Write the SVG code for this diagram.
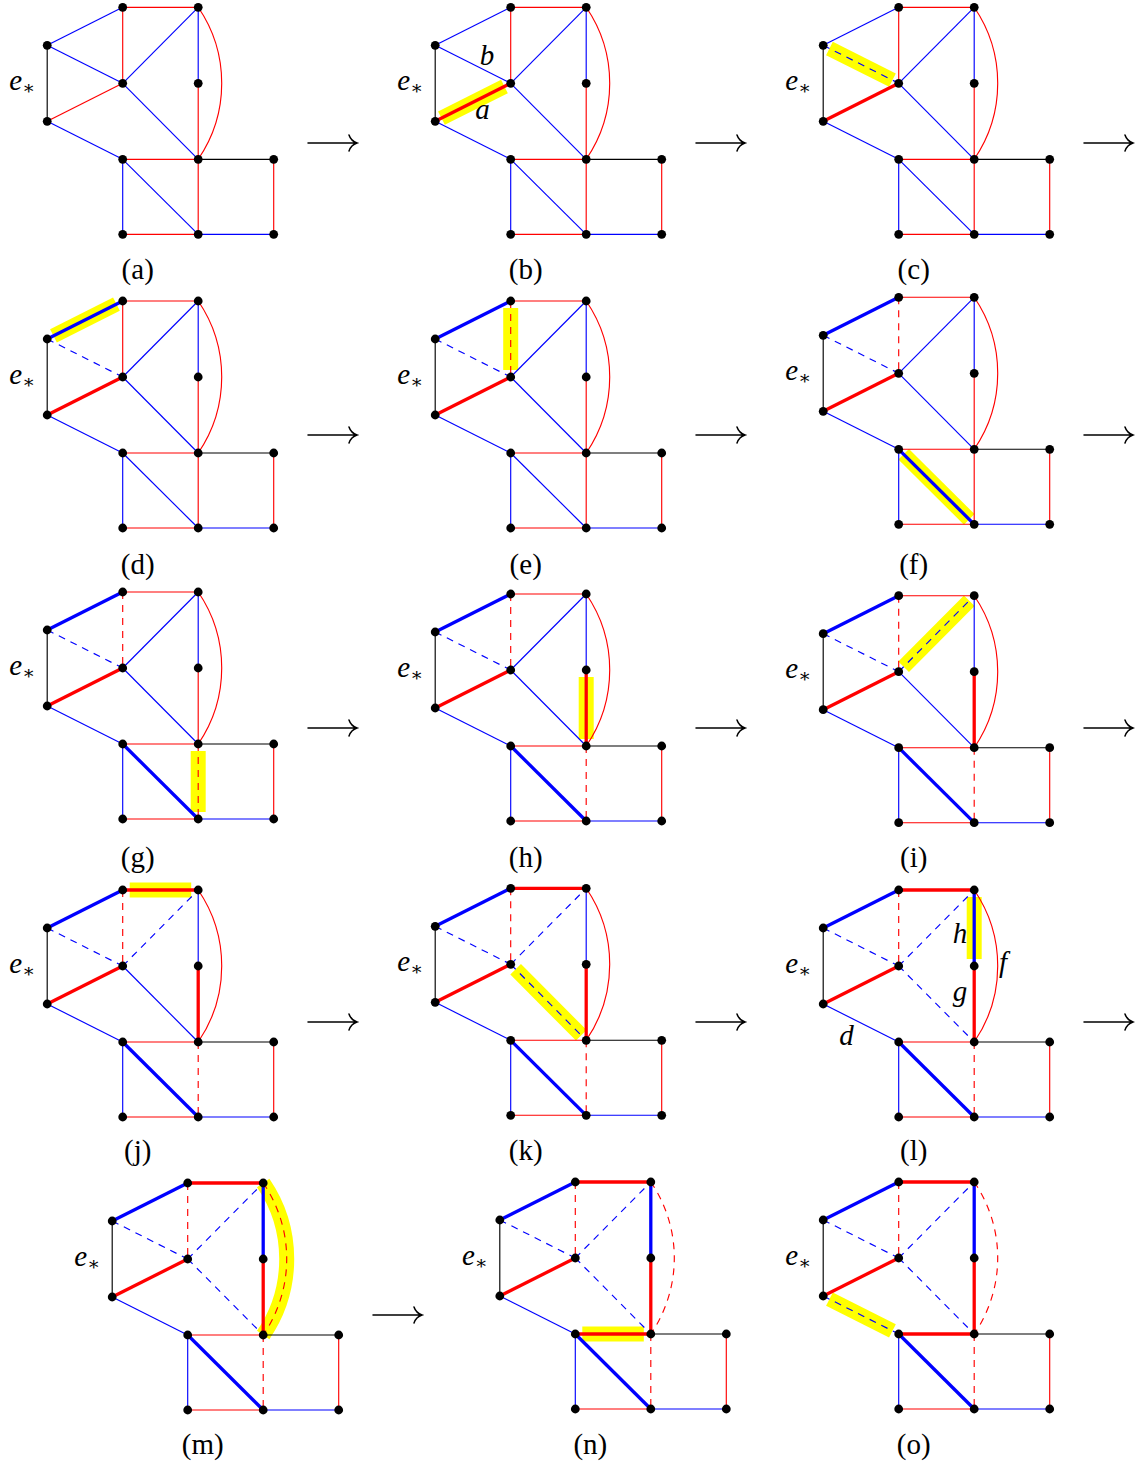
<svg xmlns="http://www.w3.org/2000/svg" width="1135" height="1466" viewBox="0 0 1135 1466">
<style>
.e{fill:none;stroke-width:1.15}
.r{stroke:#ff0000}
.b{stroke:#0000ff}
.n{stroke:#000000}
.w{stroke-width:3.3}
.d{stroke-dasharray:7 6}
.hl{fill:none;stroke:#ffff00;stroke-width:15}
.nd circle{fill:#000;r:4.4px}
.lbl{font-family:"Liberation Serif","Times New Roman",serif;font-size:29px;fill:#000}
.it{font-style:italic}
.ast{font-family:"DejaVu Serif",serif;font-size:19px;font-style:normal}
.arr{fill:none;stroke:#000;stroke-width:1.5;stroke-linecap:round}
</style>
<rect width="1135" height="1466" fill="#ffffff"/>

<!-- panel a -->
<g id="panel-a" transform="translate(122.7,7.3)">
<g id="a-edges">
<line class="e b" x1="-75.5" y1="38" x2="0" y2="0"/>
<line class="e r" x1="0" y1="0" x2="75.5" y2="0"/>
<line class="e r" x1="0" y1="0" x2="0" y2="76"/>
<line class="e b" x1="-75.5" y1="38" x2="0" y2="76"/>
<line class="e n" x1="-75.5" y1="38" x2="-75.5" y2="114"/>
<line class="e r" x1="-75.5" y1="114" x2="0" y2="76"/>
<line class="e b" x1="0" y1="76" x2="75.5" y2="0"/>
<line class="e b" x1="0" y1="76" x2="75.5" y2="152"/>
<line class="e b" x1="75.5" y1="0" x2="75.5" y2="76"/>
<line class="e r" x1="75.5" y1="76" x2="75.5" y2="152"/>
<path class="e r" d="M75.5,0A134.6,134.6 0 0 1 75.5,152"/>
<line class="e b" x1="-75.5" y1="114" x2="0" y2="152"/>
<line class="e r" x1="0" y1="152" x2="75.5" y2="152"/>
<line class="e n" x1="75.5" y1="152" x2="151" y2="152"/>
<line class="e b" x1="0" y1="152" x2="0" y2="227"/>
<line class="e b" x1="0" y1="152" x2="75.5" y2="227"/>
<line class="e r" x1="75.5" y1="152" x2="75.5" y2="227"/>
<line class="e r" x1="0" y1="227" x2="75.5" y2="227"/>
<line class="e r" x1="151" y1="152" x2="151" y2="227"/>
<line class="e b" x1="75.5" y1="227" x2="151" y2="227"/>
</g>
<g id="a-A" class="nd"><circle cx="0" cy="0" r="4"/></g>
<g id="a-B" class="nd"><circle cx="75.5" cy="0" r="4"/></g>
<g id="a-C" class="nd"><circle cx="-75.5" cy="38" r="4"/></g>
<g id="a-D" class="nd"><circle cx="0" cy="76" r="4"/></g>
<g id="a-E" class="nd"><circle cx="75.5" cy="76" r="4"/></g>
<g id="a-F" class="nd"><circle cx="-75.5" cy="114" r="4"/></g>
<g id="a-G" class="nd"><circle cx="0" cy="152" r="4"/></g>
<g id="a-H" class="nd"><circle cx="75.5" cy="152" r="4"/></g>
<g id="a-I" class="nd"><circle cx="151" cy="152" r="4"/></g>
<g id="a-J" class="nd"><circle cx="0" cy="227" r="4"/></g>
<g id="a-K" class="nd"><circle cx="75.5" cy="227" r="4"/></g>
<g id="a-L" class="nd"><circle cx="151" cy="227" r="4"/></g>
<text class="lbl" x="-113.4" y="82.7"><tspan class="it">e</tspan><tspan class="ast" dy="4">∗</tspan></text>
<text class="lbl" x="15" y="271.7" text-anchor="middle">(a)</text>
</g>

<!-- panel b -->
<g id="panel-b" transform="translate(510.7,7.3)">
<g id="b-edges">
<line class="hl" x1="-69.25" y1="110.85" x2="-6.25" y2="79.15"/>
<line class="e b" x1="-75.5" y1="38" x2="0" y2="0"/>
<line class="e r" x1="0" y1="0" x2="75.5" y2="0"/>
<line class="e r" x1="0" y1="0" x2="0" y2="76"/>
<line class="e b" x1="-75.5" y1="38" x2="0" y2="76"/>
<line class="e n" x1="-75.5" y1="38" x2="-75.5" y2="114"/>
<line class="e r w" x1="-75.5" y1="114" x2="0" y2="76"/>
<line class="e b" x1="0" y1="76" x2="75.5" y2="0"/>
<line class="e b" x1="0" y1="76" x2="75.5" y2="152"/>
<line class="e b" x1="75.5" y1="0" x2="75.5" y2="76"/>
<line class="e r" x1="75.5" y1="76" x2="75.5" y2="152"/>
<path class="e r" d="M75.5,0A134.6,134.6 0 0 1 75.5,152"/>
<line class="e b" x1="-75.5" y1="114" x2="0" y2="152"/>
<line class="e r" x1="0" y1="152" x2="75.5" y2="152"/>
<line class="e n" x1="75.5" y1="152" x2="151" y2="152"/>
<line class="e b" x1="0" y1="152" x2="0" y2="227"/>
<line class="e b" x1="0" y1="152" x2="75.5" y2="227"/>
<line class="e r" x1="75.5" y1="152" x2="75.5" y2="227"/>
<line class="e r" x1="0" y1="227" x2="75.5" y2="227"/>
<line class="e r" x1="151" y1="152" x2="151" y2="227"/>
<line class="e b" x1="75.5" y1="227" x2="151" y2="227"/>
</g>
<g id="b-A" class="nd"><circle cx="0" cy="0" r="4"/></g>
<g id="b-B" class="nd"><circle cx="75.5" cy="0" r="4"/></g>
<g id="b-C" class="nd"><circle cx="-75.5" cy="38" r="4"/></g>
<g id="b-D" class="nd"><circle cx="0" cy="76" r="4"/></g>
<g id="b-E" class="nd"><circle cx="75.5" cy="76" r="4"/></g>
<g id="b-F" class="nd"><circle cx="-75.5" cy="114" r="4"/></g>
<g id="b-G" class="nd"><circle cx="0" cy="152" r="4"/></g>
<g id="b-H" class="nd"><circle cx="75.5" cy="152" r="4"/></g>
<g id="b-I" class="nd"><circle cx="151" cy="152" r="4"/></g>
<g id="b-J" class="nd"><circle cx="0" cy="227" r="4"/></g>
<g id="b-K" class="nd"><circle cx="75.5" cy="227" r="4"/></g>
<g id="b-L" class="nd"><circle cx="151" cy="227" r="4"/></g>
<text class="lbl" x="-113.4" y="82.7"><tspan class="it">e</tspan><tspan class="ast" dy="4">∗</tspan></text>
<text class="lbl it" x="-31" y="57.7">b</text>
<text class="lbl it" x="-35.4" y="111.7">a</text>
<text class="lbl" x="15" y="271.7" text-anchor="middle">(b)</text>
</g>

<!-- panel c -->
<g id="panel-c" transform="translate(898.7,7.3)">
<g id="c-edges">
<line class="hl" x1="-69.25" y1="41.15" x2="-6.25" y2="72.85"/>
<line class="e b" x1="-75.5" y1="38" x2="0" y2="0"/>
<line class="e r" x1="0" y1="0" x2="75.5" y2="0"/>
<line class="e r" x1="0" y1="0" x2="0" y2="76"/>
<line class="e b d" x1="-75.5" y1="38" x2="0" y2="76"/>
<line class="e n" x1="-75.5" y1="38" x2="-75.5" y2="114"/>
<line class="e r w" x1="-75.5" y1="114" x2="0" y2="76"/>
<line class="e b" x1="0" y1="76" x2="75.5" y2="0"/>
<line class="e b" x1="0" y1="76" x2="75.5" y2="152"/>
<line class="e b" x1="75.5" y1="0" x2="75.5" y2="76"/>
<line class="e r" x1="75.5" y1="76" x2="75.5" y2="152"/>
<path class="e r" d="M75.5,0A134.6,134.6 0 0 1 75.5,152"/>
<line class="e b" x1="-75.5" y1="114" x2="0" y2="152"/>
<line class="e r" x1="0" y1="152" x2="75.5" y2="152"/>
<line class="e n" x1="75.5" y1="152" x2="151" y2="152"/>
<line class="e b" x1="0" y1="152" x2="0" y2="227"/>
<line class="e b" x1="0" y1="152" x2="75.5" y2="227"/>
<line class="e r" x1="75.5" y1="152" x2="75.5" y2="227"/>
<line class="e r" x1="0" y1="227" x2="75.5" y2="227"/>
<line class="e r" x1="151" y1="152" x2="151" y2="227"/>
<line class="e b" x1="75.5" y1="227" x2="151" y2="227"/>
</g>
<g id="c-A" class="nd"><circle cx="0" cy="0" r="4"/></g>
<g id="c-B" class="nd"><circle cx="75.5" cy="0" r="4"/></g>
<g id="c-C" class="nd"><circle cx="-75.5" cy="38" r="4"/></g>
<g id="c-D" class="nd"><circle cx="0" cy="76" r="4"/></g>
<g id="c-E" class="nd"><circle cx="75.5" cy="76" r="4"/></g>
<g id="c-F" class="nd"><circle cx="-75.5" cy="114" r="4"/></g>
<g id="c-G" class="nd"><circle cx="0" cy="152" r="4"/></g>
<g id="c-H" class="nd"><circle cx="75.5" cy="152" r="4"/></g>
<g id="c-I" class="nd"><circle cx="151" cy="152" r="4"/></g>
<g id="c-J" class="nd"><circle cx="0" cy="227" r="4"/></g>
<g id="c-K" class="nd"><circle cx="75.5" cy="227" r="4"/></g>
<g id="c-L" class="nd"><circle cx="151" cy="227" r="4"/></g>
<text class="lbl" x="-113.4" y="82.7"><tspan class="it">e</tspan><tspan class="ast" dy="4">∗</tspan></text>
<text class="lbl" x="15" y="271.7" text-anchor="middle">(c)</text>
</g>

<!-- panel d -->
<g id="panel-d" transform="translate(122.7,301)">
<g id="d-edges">
<line class="hl" x1="-69.25" y1="34.85" x2="-6.25" y2="3.15"/>
<line class="e b w" x1="-75.5" y1="38" x2="0" y2="0"/>
<line class="e r" x1="0" y1="0" x2="75.5" y2="0"/>
<line class="e r" x1="0" y1="0" x2="0" y2="76"/>
<line class="e b d" x1="-75.5" y1="38" x2="0" y2="76"/>
<line class="e n" x1="-75.5" y1="38" x2="-75.5" y2="114"/>
<line class="e r w" x1="-75.5" y1="114" x2="0" y2="76"/>
<line class="e b" x1="0" y1="76" x2="75.5" y2="0"/>
<line class="e b" x1="0" y1="76" x2="75.5" y2="152"/>
<line class="e b" x1="75.5" y1="0" x2="75.5" y2="76"/>
<line class="e r" x1="75.5" y1="76" x2="75.5" y2="152"/>
<path class="e r" d="M75.5,0A134.6,134.6 0 0 1 75.5,152"/>
<line class="e b" x1="-75.5" y1="114" x2="0" y2="152"/>
<line class="e r" x1="0" y1="152" x2="75.5" y2="152"/>
<line class="e n" x1="75.5" y1="152" x2="151" y2="152"/>
<line class="e b" x1="0" y1="152" x2="0" y2="227"/>
<line class="e b" x1="0" y1="152" x2="75.5" y2="227"/>
<line class="e r" x1="75.5" y1="152" x2="75.5" y2="227"/>
<line class="e r" x1="0" y1="227" x2="75.5" y2="227"/>
<line class="e r" x1="151" y1="152" x2="151" y2="227"/>
<line class="e b" x1="75.5" y1="227" x2="151" y2="227"/>
</g>
<g id="d-A" class="nd"><circle cx="0" cy="0" r="4"/></g>
<g id="d-B" class="nd"><circle cx="75.5" cy="0" r="4"/></g>
<g id="d-C" class="nd"><circle cx="-75.5" cy="38" r="4"/></g>
<g id="d-D" class="nd"><circle cx="0" cy="76" r="4"/></g>
<g id="d-E" class="nd"><circle cx="75.5" cy="76" r="4"/></g>
<g id="d-F" class="nd"><circle cx="-75.5" cy="114" r="4"/></g>
<g id="d-G" class="nd"><circle cx="0" cy="152" r="4"/></g>
<g id="d-H" class="nd"><circle cx="75.5" cy="152" r="4"/></g>
<g id="d-I" class="nd"><circle cx="151" cy="152" r="4"/></g>
<g id="d-J" class="nd"><circle cx="0" cy="227" r="4"/></g>
<g id="d-K" class="nd"><circle cx="75.5" cy="227" r="4"/></g>
<g id="d-L" class="nd"><circle cx="151" cy="227" r="4"/></g>
<text class="lbl" x="-113.4" y="82.7"><tspan class="it">e</tspan><tspan class="ast" dy="4">∗</tspan></text>
<text class="lbl" x="15" y="273" text-anchor="middle">(d)</text>
</g>

<!-- panel e -->
<g id="panel-e" transform="translate(510.7,301)">
<g id="e-edges">
<line class="hl" x1="0" y1="7" x2="0" y2="69"/>
<line class="e b w" x1="-75.5" y1="38" x2="0" y2="0"/>
<line class="e r" x1="0" y1="0" x2="75.5" y2="0"/>
<line class="e r d" x1="0" y1="0" x2="0" y2="76"/>
<line class="e b d" x1="-75.5" y1="38" x2="0" y2="76"/>
<line class="e n" x1="-75.5" y1="38" x2="-75.5" y2="114"/>
<line class="e r w" x1="-75.5" y1="114" x2="0" y2="76"/>
<line class="e b" x1="0" y1="76" x2="75.5" y2="0"/>
<line class="e b" x1="0" y1="76" x2="75.5" y2="152"/>
<line class="e b" x1="75.5" y1="0" x2="75.5" y2="76"/>
<line class="e r" x1="75.5" y1="76" x2="75.5" y2="152"/>
<path class="e r" d="M75.5,0A134.6,134.6 0 0 1 75.5,152"/>
<line class="e b" x1="-75.5" y1="114" x2="0" y2="152"/>
<line class="e r" x1="0" y1="152" x2="75.5" y2="152"/>
<line class="e n" x1="75.5" y1="152" x2="151" y2="152"/>
<line class="e b" x1="0" y1="152" x2="0" y2="227"/>
<line class="e b" x1="0" y1="152" x2="75.5" y2="227"/>
<line class="e r" x1="75.5" y1="152" x2="75.5" y2="227"/>
<line class="e r" x1="0" y1="227" x2="75.5" y2="227"/>
<line class="e r" x1="151" y1="152" x2="151" y2="227"/>
<line class="e b" x1="75.5" y1="227" x2="151" y2="227"/>
</g>
<g id="e-A" class="nd"><circle cx="0" cy="0" r="4"/></g>
<g id="e-B" class="nd"><circle cx="75.5" cy="0" r="4"/></g>
<g id="e-C" class="nd"><circle cx="-75.5" cy="38" r="4"/></g>
<g id="e-D" class="nd"><circle cx="0" cy="76" r="4"/></g>
<g id="e-E" class="nd"><circle cx="75.5" cy="76" r="4"/></g>
<g id="e-F" class="nd"><circle cx="-75.5" cy="114" r="4"/></g>
<g id="e-G" class="nd"><circle cx="0" cy="152" r="4"/></g>
<g id="e-H" class="nd"><circle cx="75.5" cy="152" r="4"/></g>
<g id="e-I" class="nd"><circle cx="151" cy="152" r="4"/></g>
<g id="e-J" class="nd"><circle cx="0" cy="227" r="4"/></g>
<g id="e-K" class="nd"><circle cx="75.5" cy="227" r="4"/></g>
<g id="e-L" class="nd"><circle cx="151" cy="227" r="4"/></g>
<text class="lbl" x="-113.4" y="82.7"><tspan class="it">e</tspan><tspan class="ast" dy="4">∗</tspan></text>
<text class="lbl" x="15" y="273" text-anchor="middle">(e)</text>
</g>

<!-- panel f -->
<g id="panel-f" transform="translate(898.7,297.3)">
<g id="f-edges">
<line class="hl" x1="4.97" y1="156.93" x2="70.53" y2="222.07"/>
<line class="e b w" x1="-75.5" y1="38" x2="0" y2="0"/>
<line class="e r" x1="0" y1="0" x2="75.5" y2="0"/>
<line class="e r d" x1="0" y1="0" x2="0" y2="76"/>
<line class="e b d" x1="-75.5" y1="38" x2="0" y2="76"/>
<line class="e n" x1="-75.5" y1="38" x2="-75.5" y2="114"/>
<line class="e r w" x1="-75.5" y1="114" x2="0" y2="76"/>
<line class="e b" x1="0" y1="76" x2="75.5" y2="0"/>
<line class="e b" x1="0" y1="76" x2="75.5" y2="152"/>
<line class="e b" x1="75.5" y1="0" x2="75.5" y2="76"/>
<line class="e r" x1="75.5" y1="76" x2="75.5" y2="152"/>
<path class="e r" d="M75.5,0A134.6,134.6 0 0 1 75.5,152"/>
<line class="e b" x1="-75.5" y1="114" x2="0" y2="152"/>
<line class="e r" x1="0" y1="152" x2="75.5" y2="152"/>
<line class="e n" x1="75.5" y1="152" x2="151" y2="152"/>
<line class="e b" x1="0" y1="152" x2="0" y2="227"/>
<line class="e b w" x1="0" y1="152" x2="75.5" y2="227"/>
<line class="e r" x1="75.5" y1="152" x2="75.5" y2="227"/>
<line class="e r" x1="0" y1="227" x2="75.5" y2="227"/>
<line class="e r" x1="151" y1="152" x2="151" y2="227"/>
<line class="e b" x1="75.5" y1="227" x2="151" y2="227"/>
</g>
<g id="f-A" class="nd"><circle cx="0" cy="0" r="4"/></g>
<g id="f-B" class="nd"><circle cx="75.5" cy="0" r="4"/></g>
<g id="f-C" class="nd"><circle cx="-75.5" cy="38" r="4"/></g>
<g id="f-D" class="nd"><circle cx="0" cy="76" r="4"/></g>
<g id="f-E" class="nd"><circle cx="75.5" cy="76" r="4"/></g>
<g id="f-F" class="nd"><circle cx="-75.5" cy="114" r="4"/></g>
<g id="f-G" class="nd"><circle cx="0" cy="152" r="4"/></g>
<g id="f-H" class="nd"><circle cx="75.5" cy="152" r="4"/></g>
<g id="f-I" class="nd"><circle cx="151" cy="152" r="4"/></g>
<g id="f-J" class="nd"><circle cx="0" cy="227" r="4"/></g>
<g id="f-K" class="nd"><circle cx="75.5" cy="227" r="4"/></g>
<g id="f-L" class="nd"><circle cx="151" cy="227" r="4"/></g>
<text class="lbl" x="-113.4" y="82.7"><tspan class="it">e</tspan><tspan class="ast" dy="4">∗</tspan></text>
<text class="lbl" x="15" y="276.7" text-anchor="middle">(f)</text>
</g>

<!-- panel g -->
<g id="panel-g" transform="translate(122.7,592)">
<g id="g-edges">
<line class="hl" x1="75.5" y1="159" x2="75.5" y2="220"/>
<line class="e b w" x1="-75.5" y1="38" x2="0" y2="0"/>
<line class="e r" x1="0" y1="0" x2="75.5" y2="0"/>
<line class="e r d" x1="0" y1="0" x2="0" y2="76"/>
<line class="e b d" x1="-75.5" y1="38" x2="0" y2="76"/>
<line class="e n" x1="-75.5" y1="38" x2="-75.5" y2="114"/>
<line class="e r w" x1="-75.5" y1="114" x2="0" y2="76"/>
<line class="e b" x1="0" y1="76" x2="75.5" y2="0"/>
<line class="e b" x1="0" y1="76" x2="75.5" y2="152"/>
<line class="e b" x1="75.5" y1="0" x2="75.5" y2="76"/>
<line class="e r" x1="75.5" y1="76" x2="75.5" y2="152"/>
<path class="e r" d="M75.5,0A134.6,134.6 0 0 1 75.5,152"/>
<line class="e b" x1="-75.5" y1="114" x2="0" y2="152"/>
<line class="e r" x1="0" y1="152" x2="75.5" y2="152"/>
<line class="e n" x1="75.5" y1="152" x2="151" y2="152"/>
<line class="e b" x1="0" y1="152" x2="0" y2="227"/>
<line class="e b w" x1="0" y1="152" x2="75.5" y2="227"/>
<line class="e r d" x1="75.5" y1="152" x2="75.5" y2="227"/>
<line class="e r" x1="0" y1="227" x2="75.5" y2="227"/>
<line class="e r" x1="151" y1="152" x2="151" y2="227"/>
<line class="e b" x1="75.5" y1="227" x2="151" y2="227"/>
</g>
<g id="g-A" class="nd"><circle cx="0" cy="0" r="4"/></g>
<g id="g-B" class="nd"><circle cx="75.5" cy="0" r="4"/></g>
<g id="g-C" class="nd"><circle cx="-75.5" cy="38" r="4"/></g>
<g id="g-D" class="nd"><circle cx="0" cy="76" r="4"/></g>
<g id="g-E" class="nd"><circle cx="75.5" cy="76" r="4"/></g>
<g id="g-F" class="nd"><circle cx="-75.5" cy="114" r="4"/></g>
<g id="g-G" class="nd"><circle cx="0" cy="152" r="4"/></g>
<g id="g-H" class="nd"><circle cx="75.5" cy="152" r="4"/></g>
<g id="g-I" class="nd"><circle cx="151" cy="152" r="4"/></g>
<g id="g-J" class="nd"><circle cx="0" cy="227" r="4"/></g>
<g id="g-K" class="nd"><circle cx="75.5" cy="227" r="4"/></g>
<g id="g-L" class="nd"><circle cx="151" cy="227" r="4"/></g>
<text class="lbl" x="-113.4" y="82.7"><tspan class="it">e</tspan><tspan class="ast" dy="4">∗</tspan></text>
<text class="lbl" x="15" y="275" text-anchor="middle">(g)</text>
</g>

<!-- panel h -->
<g id="panel-h" transform="translate(510.7,594)">
<g id="h-edges">
<line class="hl" x1="75.5" y1="83" x2="75.5" y2="145"/>
<line class="e b w" x1="-75.5" y1="38" x2="0" y2="0"/>
<line class="e r" x1="0" y1="0" x2="75.5" y2="0"/>
<line class="e r d" x1="0" y1="0" x2="0" y2="76"/>
<line class="e b d" x1="-75.5" y1="38" x2="0" y2="76"/>
<line class="e n" x1="-75.5" y1="38" x2="-75.5" y2="114"/>
<line class="e r w" x1="-75.5" y1="114" x2="0" y2="76"/>
<line class="e b" x1="0" y1="76" x2="75.5" y2="0"/>
<line class="e b" x1="0" y1="76" x2="75.5" y2="152"/>
<line class="e b" x1="75.5" y1="0" x2="75.5" y2="76"/>
<line class="e r w" x1="75.5" y1="76" x2="75.5" y2="152"/>
<path class="e r" d="M75.5,0A134.6,134.6 0 0 1 75.5,152"/>
<line class="e b" x1="-75.5" y1="114" x2="0" y2="152"/>
<line class="e r" x1="0" y1="152" x2="75.5" y2="152"/>
<line class="e n" x1="75.5" y1="152" x2="151" y2="152"/>
<line class="e b" x1="0" y1="152" x2="0" y2="227"/>
<line class="e b w" x1="0" y1="152" x2="75.5" y2="227"/>
<line class="e r d" x1="75.5" y1="152" x2="75.5" y2="227"/>
<line class="e r" x1="0" y1="227" x2="75.5" y2="227"/>
<line class="e r" x1="151" y1="152" x2="151" y2="227"/>
<line class="e b" x1="75.5" y1="227" x2="151" y2="227"/>
</g>
<g id="h-A" class="nd"><circle cx="0" cy="0" r="4"/></g>
<g id="h-B" class="nd"><circle cx="75.5" cy="0" r="4"/></g>
<g id="h-C" class="nd"><circle cx="-75.5" cy="38" r="4"/></g>
<g id="h-D" class="nd"><circle cx="0" cy="76" r="4"/></g>
<g id="h-E" class="nd"><circle cx="75.5" cy="76" r="4"/></g>
<g id="h-F" class="nd"><circle cx="-75.5" cy="114" r="4"/></g>
<g id="h-G" class="nd"><circle cx="0" cy="152" r="4"/></g>
<g id="h-H" class="nd"><circle cx="75.5" cy="152" r="4"/></g>
<g id="h-I" class="nd"><circle cx="151" cy="152" r="4"/></g>
<g id="h-J" class="nd"><circle cx="0" cy="227" r="4"/></g>
<g id="h-K" class="nd"><circle cx="75.5" cy="227" r="4"/></g>
<g id="h-L" class="nd"><circle cx="151" cy="227" r="4"/></g>
<text class="lbl" x="-113.4" y="82.7"><tspan class="it">e</tspan><tspan class="ast" dy="4">∗</tspan></text>
<text class="lbl" x="15" y="273" text-anchor="middle">(h)</text>
</g>

<!-- panel i -->
<g id="panel-i" transform="translate(898.7,595.7)">
<g id="i-edges">
<line class="hl" x1="4.93" y1="71.03" x2="70.57" y2="4.97"/>
<line class="e b w" x1="-75.5" y1="38" x2="0" y2="0"/>
<line class="e r" x1="0" y1="0" x2="75.5" y2="0"/>
<line class="e r d" x1="0" y1="0" x2="0" y2="76"/>
<line class="e b d" x1="-75.5" y1="38" x2="0" y2="76"/>
<line class="e n" x1="-75.5" y1="38" x2="-75.5" y2="114"/>
<line class="e r w" x1="-75.5" y1="114" x2="0" y2="76"/>
<line class="e b d" x1="0" y1="76" x2="75.5" y2="0"/>
<line class="e b" x1="0" y1="76" x2="75.5" y2="152"/>
<line class="e b" x1="75.5" y1="0" x2="75.5" y2="76"/>
<line class="e r w" x1="75.5" y1="76" x2="75.5" y2="152"/>
<path class="e r" d="M75.5,0A134.6,134.6 0 0 1 75.5,152"/>
<line class="e b" x1="-75.5" y1="114" x2="0" y2="152"/>
<line class="e r" x1="0" y1="152" x2="75.5" y2="152"/>
<line class="e n" x1="75.5" y1="152" x2="151" y2="152"/>
<line class="e b" x1="0" y1="152" x2="0" y2="227"/>
<line class="e b w" x1="0" y1="152" x2="75.5" y2="227"/>
<line class="e r d" x1="75.5" y1="152" x2="75.5" y2="227"/>
<line class="e r" x1="0" y1="227" x2="75.5" y2="227"/>
<line class="e r" x1="151" y1="152" x2="151" y2="227"/>
<line class="e b" x1="75.5" y1="227" x2="151" y2="227"/>
</g>
<g id="i-A" class="nd"><circle cx="0" cy="0" r="4"/></g>
<g id="i-B" class="nd"><circle cx="75.5" cy="0" r="4"/></g>
<g id="i-C" class="nd"><circle cx="-75.5" cy="38" r="4"/></g>
<g id="i-D" class="nd"><circle cx="0" cy="76" r="4"/></g>
<g id="i-E" class="nd"><circle cx="75.5" cy="76" r="4"/></g>
<g id="i-F" class="nd"><circle cx="-75.5" cy="114" r="4"/></g>
<g id="i-G" class="nd"><circle cx="0" cy="152" r="4"/></g>
<g id="i-H" class="nd"><circle cx="75.5" cy="152" r="4"/></g>
<g id="i-I" class="nd"><circle cx="151" cy="152" r="4"/></g>
<g id="i-J" class="nd"><circle cx="0" cy="227" r="4"/></g>
<g id="i-K" class="nd"><circle cx="75.5" cy="227" r="4"/></g>
<g id="i-L" class="nd"><circle cx="151" cy="227" r="4"/></g>
<text class="lbl" x="-113.4" y="82.7"><tspan class="it">e</tspan><tspan class="ast" dy="4">∗</tspan></text>
<text class="lbl" x="15" y="271.3" text-anchor="middle">(i)</text>
</g>

<!-- panel j -->
<g id="panel-j" transform="translate(122.7,890)">
<g id="j-edges">
<line class="hl" x1="7" y1="0" x2="68.5" y2="0"/>
<line class="e b w" x1="-75.5" y1="38" x2="0" y2="0"/>
<line class="e r w" x1="0" y1="0" x2="75.5" y2="0"/>
<line class="e r d" x1="0" y1="0" x2="0" y2="76"/>
<line class="e b d" x1="-75.5" y1="38" x2="0" y2="76"/>
<line class="e n" x1="-75.5" y1="38" x2="-75.5" y2="114"/>
<line class="e r w" x1="-75.5" y1="114" x2="0" y2="76"/>
<line class="e b d" x1="0" y1="76" x2="75.5" y2="0"/>
<line class="e b" x1="0" y1="76" x2="75.5" y2="152"/>
<line class="e b" x1="75.5" y1="0" x2="75.5" y2="76"/>
<line class="e r w" x1="75.5" y1="76" x2="75.5" y2="152"/>
<path class="e r" d="M75.5,0A134.6,134.6 0 0 1 75.5,152"/>
<line class="e b" x1="-75.5" y1="114" x2="0" y2="152"/>
<line class="e r" x1="0" y1="152" x2="75.5" y2="152"/>
<line class="e n" x1="75.5" y1="152" x2="151" y2="152"/>
<line class="e b" x1="0" y1="152" x2="0" y2="227"/>
<line class="e b w" x1="0" y1="152" x2="75.5" y2="227"/>
<line class="e r d" x1="75.5" y1="152" x2="75.5" y2="227"/>
<line class="e r" x1="0" y1="227" x2="75.5" y2="227"/>
<line class="e r" x1="151" y1="152" x2="151" y2="227"/>
<line class="e b" x1="75.5" y1="227" x2="151" y2="227"/>
</g>
<g id="j-A" class="nd"><circle cx="0" cy="0" r="4"/></g>
<g id="j-B" class="nd"><circle cx="75.5" cy="0" r="4"/></g>
<g id="j-C" class="nd"><circle cx="-75.5" cy="38" r="4"/></g>
<g id="j-D" class="nd"><circle cx="0" cy="76" r="4"/></g>
<g id="j-E" class="nd"><circle cx="75.5" cy="76" r="4"/></g>
<g id="j-F" class="nd"><circle cx="-75.5" cy="114" r="4"/></g>
<g id="j-G" class="nd"><circle cx="0" cy="152" r="4"/></g>
<g id="j-H" class="nd"><circle cx="75.5" cy="152" r="4"/></g>
<g id="j-I" class="nd"><circle cx="151" cy="152" r="4"/></g>
<g id="j-J" class="nd"><circle cx="0" cy="227" r="4"/></g>
<g id="j-K" class="nd"><circle cx="75.5" cy="227" r="4"/></g>
<g id="j-L" class="nd"><circle cx="151" cy="227" r="4"/></g>
<text class="lbl" x="-113.4" y="82.7"><tspan class="it">e</tspan><tspan class="ast" dy="4">∗</tspan></text>
<text class="lbl" x="15" y="270" text-anchor="middle">(j)</text>
</g>

<!-- panel k -->
<g id="panel-k" transform="translate(510.7,888.3)">
<g id="k-edges">
<line class="hl" x1="4.93" y1="80.97" x2="70.57" y2="147.03"/>
<line class="e b w" x1="-75.5" y1="38" x2="0" y2="0"/>
<line class="e r w" x1="0" y1="0" x2="75.5" y2="0"/>
<line class="e r d" x1="0" y1="0" x2="0" y2="76"/>
<line class="e b d" x1="-75.5" y1="38" x2="0" y2="76"/>
<line class="e n" x1="-75.5" y1="38" x2="-75.5" y2="114"/>
<line class="e r w" x1="-75.5" y1="114" x2="0" y2="76"/>
<line class="e b d" x1="0" y1="76" x2="75.5" y2="0"/>
<line class="e b d" x1="0" y1="76" x2="75.5" y2="152"/>
<line class="e b" x1="75.5" y1="0" x2="75.5" y2="76"/>
<line class="e r w" x1="75.5" y1="76" x2="75.5" y2="152"/>
<path class="e r" d="M75.5,0A134.6,134.6 0 0 1 75.5,152"/>
<line class="e b" x1="-75.5" y1="114" x2="0" y2="152"/>
<line class="e r" x1="0" y1="152" x2="75.5" y2="152"/>
<line class="e n" x1="75.5" y1="152" x2="151" y2="152"/>
<line class="e b" x1="0" y1="152" x2="0" y2="227"/>
<line class="e b w" x1="0" y1="152" x2="75.5" y2="227"/>
<line class="e r d" x1="75.5" y1="152" x2="75.5" y2="227"/>
<line class="e r" x1="0" y1="227" x2="75.5" y2="227"/>
<line class="e r" x1="151" y1="152" x2="151" y2="227"/>
<line class="e b" x1="75.5" y1="227" x2="151" y2="227"/>
</g>
<g id="k-A" class="nd"><circle cx="0" cy="0" r="4"/></g>
<g id="k-B" class="nd"><circle cx="75.5" cy="0" r="4"/></g>
<g id="k-C" class="nd"><circle cx="-75.5" cy="38" r="4"/></g>
<g id="k-D" class="nd"><circle cx="0" cy="76" r="4"/></g>
<g id="k-E" class="nd"><circle cx="75.5" cy="76" r="4"/></g>
<g id="k-F" class="nd"><circle cx="-75.5" cy="114" r="4"/></g>
<g id="k-G" class="nd"><circle cx="0" cy="152" r="4"/></g>
<g id="k-H" class="nd"><circle cx="75.5" cy="152" r="4"/></g>
<g id="k-I" class="nd"><circle cx="151" cy="152" r="4"/></g>
<g id="k-J" class="nd"><circle cx="0" cy="227" r="4"/></g>
<g id="k-K" class="nd"><circle cx="75.5" cy="227" r="4"/></g>
<g id="k-L" class="nd"><circle cx="151" cy="227" r="4"/></g>
<text class="lbl" x="-113.4" y="82.7"><tspan class="it">e</tspan><tspan class="ast" dy="4">∗</tspan></text>
<text class="lbl" x="15" y="271.7" text-anchor="middle">(k)</text>
</g>

<!-- panel l -->
<g id="panel-l" transform="translate(898.7,890)">
<g id="l-edges">
<line class="hl" x1="75.5" y1="7" x2="75.5" y2="69"/>
<line class="e b w" x1="-75.5" y1="38" x2="0" y2="0"/>
<line class="e r w" x1="0" y1="0" x2="75.5" y2="0"/>
<line class="e r d" x1="0" y1="0" x2="0" y2="76"/>
<line class="e b d" x1="-75.5" y1="38" x2="0" y2="76"/>
<line class="e n" x1="-75.5" y1="38" x2="-75.5" y2="114"/>
<line class="e r w" x1="-75.5" y1="114" x2="0" y2="76"/>
<line class="e b d" x1="0" y1="76" x2="75.5" y2="0"/>
<line class="e b d" x1="0" y1="76" x2="75.5" y2="152"/>
<line class="e b w" x1="75.5" y1="0" x2="75.5" y2="76"/>
<line class="e r w" x1="75.5" y1="76" x2="75.5" y2="152"/>
<path class="e r" d="M75.5,0A134.6,134.6 0 0 1 75.5,152"/>
<line class="e b" x1="-75.5" y1="114" x2="0" y2="152"/>
<line class="e r" x1="0" y1="152" x2="75.5" y2="152"/>
<line class="e n" x1="75.5" y1="152" x2="151" y2="152"/>
<line class="e b" x1="0" y1="152" x2="0" y2="227"/>
<line class="e b w" x1="0" y1="152" x2="75.5" y2="227"/>
<line class="e r d" x1="75.5" y1="152" x2="75.5" y2="227"/>
<line class="e r" x1="0" y1="227" x2="75.5" y2="227"/>
<line class="e r" x1="151" y1="152" x2="151" y2="227"/>
<line class="e b" x1="75.5" y1="227" x2="151" y2="227"/>
</g>
<g id="l-A" class="nd"><circle cx="0" cy="0" r="4"/></g>
<g id="l-B" class="nd"><circle cx="75.5" cy="0" r="4"/></g>
<g id="l-C" class="nd"><circle cx="-75.5" cy="38" r="4"/></g>
<g id="l-D" class="nd"><circle cx="0" cy="76" r="4"/></g>
<g id="l-E" class="nd"><circle cx="75.5" cy="76" r="4"/></g>
<g id="l-F" class="nd"><circle cx="-75.5" cy="114" r="4"/></g>
<g id="l-G" class="nd"><circle cx="0" cy="152" r="4"/></g>
<g id="l-H" class="nd"><circle cx="75.5" cy="152" r="4"/></g>
<g id="l-I" class="nd"><circle cx="151" cy="152" r="4"/></g>
<g id="l-J" class="nd"><circle cx="0" cy="227" r="4"/></g>
<g id="l-K" class="nd"><circle cx="75.5" cy="227" r="4"/></g>
<g id="l-L" class="nd"><circle cx="151" cy="227" r="4"/></g>
<text class="lbl" x="-113.4" y="82.7"><tspan class="it">e</tspan><tspan class="ast" dy="4">∗</tspan></text>
<text class="lbl it" x="54" y="53">h</text>
<text class="lbl it" x="100.3" y="82">f</text>
<text class="lbl it" x="54" y="111">g</text>
<text class="lbl it" x="-59.4" y="155">d</text>
<text class="lbl" x="15" y="270" text-anchor="middle">(l)</text>
</g>

<!-- panel m -->
<g id="panel-m" transform="translate(187.7,1183)">
<g id="m-edges">
<path class="hl" d="M75.5,0A134.6,134.6 0 0 1 75.5,152"/>
<line class="e b w" x1="-75.5" y1="38" x2="0" y2="0"/>
<line class="e r w" x1="0" y1="0" x2="75.5" y2="0"/>
<line class="e r d" x1="0" y1="0" x2="0" y2="76"/>
<line class="e b d" x1="-75.5" y1="38" x2="0" y2="76"/>
<line class="e n" x1="-75.5" y1="38" x2="-75.5" y2="114"/>
<line class="e r w" x1="-75.5" y1="114" x2="0" y2="76"/>
<line class="e b d" x1="0" y1="76" x2="75.5" y2="0"/>
<line class="e b d" x1="0" y1="76" x2="75.5" y2="152"/>
<line class="e b w" x1="75.5" y1="0" x2="75.5" y2="76"/>
<line class="e r w" x1="75.5" y1="76" x2="75.5" y2="152"/>
<path class="e r d" d="M75.5,0A134.6,134.6 0 0 1 75.5,152"/>
<line class="e b" x1="-75.5" y1="114" x2="0" y2="152"/>
<line class="e r" x1="0" y1="152" x2="75.5" y2="152"/>
<line class="e n" x1="75.5" y1="152" x2="151" y2="152"/>
<line class="e b" x1="0" y1="152" x2="0" y2="227"/>
<line class="e b w" x1="0" y1="152" x2="75.5" y2="227"/>
<line class="e r d" x1="75.5" y1="152" x2="75.5" y2="227"/>
<line class="e r" x1="0" y1="227" x2="75.5" y2="227"/>
<line class="e r" x1="151" y1="152" x2="151" y2="227"/>
<line class="e b" x1="75.5" y1="227" x2="151" y2="227"/>
</g>
<g id="m-A" class="nd"><circle cx="0" cy="0" r="4"/></g>
<g id="m-B" class="nd"><circle cx="75.5" cy="0" r="4"/></g>
<g id="m-C" class="nd"><circle cx="-75.5" cy="38" r="4"/></g>
<g id="m-D" class="nd"><circle cx="0" cy="76" r="4"/></g>
<g id="m-E" class="nd"><circle cx="75.5" cy="76" r="4"/></g>
<g id="m-F" class="nd"><circle cx="-75.5" cy="114" r="4"/></g>
<g id="m-G" class="nd"><circle cx="0" cy="152" r="4"/></g>
<g id="m-H" class="nd"><circle cx="75.5" cy="152" r="4"/></g>
<g id="m-I" class="nd"><circle cx="151" cy="152" r="4"/></g>
<g id="m-J" class="nd"><circle cx="0" cy="227" r="4"/></g>
<g id="m-K" class="nd"><circle cx="75.5" cy="227" r="4"/></g>
<g id="m-L" class="nd"><circle cx="151" cy="227" r="4"/></g>
<text class="lbl" x="-113.4" y="82.7"><tspan class="it">e</tspan><tspan class="ast" dy="4">∗</tspan></text>
<text class="lbl" x="15" y="271" text-anchor="middle">(m)</text>
</g>

<!-- panel n -->
<g id="panel-n" transform="translate(575.3,1182)">
<g id="n-edges">
<line class="hl" x1="7" y1="152" x2="68.5" y2="152"/>
<line class="e b w" x1="-75.5" y1="38" x2="0" y2="0"/>
<line class="e r w" x1="0" y1="0" x2="75.5" y2="0"/>
<line class="e r d" x1="0" y1="0" x2="0" y2="76"/>
<line class="e b d" x1="-75.5" y1="38" x2="0" y2="76"/>
<line class="e n" x1="-75.5" y1="38" x2="-75.5" y2="114"/>
<line class="e r w" x1="-75.5" y1="114" x2="0" y2="76"/>
<line class="e b d" x1="0" y1="76" x2="75.5" y2="0"/>
<line class="e b d" x1="0" y1="76" x2="75.5" y2="152"/>
<line class="e b w" x1="75.5" y1="0" x2="75.5" y2="76"/>
<line class="e r w" x1="75.5" y1="76" x2="75.5" y2="152"/>
<path class="e r d" d="M75.5,0A134.6,134.6 0 0 1 75.5,152"/>
<line class="e b" x1="-75.5" y1="114" x2="0" y2="152"/>
<line class="e r w" x1="0" y1="152" x2="75.5" y2="152"/>
<line class="e n" x1="75.5" y1="152" x2="151" y2="152"/>
<line class="e b" x1="0" y1="152" x2="0" y2="227"/>
<line class="e b w" x1="0" y1="152" x2="75.5" y2="227"/>
<line class="e r d" x1="75.5" y1="152" x2="75.5" y2="227"/>
<line class="e r" x1="0" y1="227" x2="75.5" y2="227"/>
<line class="e r" x1="151" y1="152" x2="151" y2="227"/>
<line class="e b" x1="75.5" y1="227" x2="151" y2="227"/>
</g>
<g id="n-A" class="nd"><circle cx="0" cy="0" r="4"/></g>
<g id="n-B" class="nd"><circle cx="75.5" cy="0" r="4"/></g>
<g id="n-C" class="nd"><circle cx="-75.5" cy="38" r="4"/></g>
<g id="n-D" class="nd"><circle cx="0" cy="76" r="4"/></g>
<g id="n-E" class="nd"><circle cx="75.5" cy="76" r="4"/></g>
<g id="n-F" class="nd"><circle cx="-75.5" cy="114" r="4"/></g>
<g id="n-G" class="nd"><circle cx="0" cy="152" r="4"/></g>
<g id="n-H" class="nd"><circle cx="75.5" cy="152" r="4"/></g>
<g id="n-I" class="nd"><circle cx="151" cy="152" r="4"/></g>
<g id="n-J" class="nd"><circle cx="0" cy="227" r="4"/></g>
<g id="n-K" class="nd"><circle cx="75.5" cy="227" r="4"/></g>
<g id="n-L" class="nd"><circle cx="151" cy="227" r="4"/></g>
<text class="lbl" x="-113.4" y="82.7"><tspan class="it">e</tspan><tspan class="ast" dy="4">∗</tspan></text>
<text class="lbl" x="15" y="272" text-anchor="middle">(n)</text>
</g>

<!-- panel o -->
<g id="panel-o" transform="translate(898.7,1182)">
<g id="o-edges">
<line class="hl" x1="-69.25" y1="117.15" x2="-6.25" y2="148.85"/>
<line class="e b w" x1="-75.5" y1="38" x2="0" y2="0"/>
<line class="e r w" x1="0" y1="0" x2="75.5" y2="0"/>
<line class="e r d" x1="0" y1="0" x2="0" y2="76"/>
<line class="e b d" x1="-75.5" y1="38" x2="0" y2="76"/>
<line class="e n" x1="-75.5" y1="38" x2="-75.5" y2="114"/>
<line class="e r w" x1="-75.5" y1="114" x2="0" y2="76"/>
<line class="e b d" x1="0" y1="76" x2="75.5" y2="0"/>
<line class="e b d" x1="0" y1="76" x2="75.5" y2="152"/>
<line class="e b w" x1="75.5" y1="0" x2="75.5" y2="76"/>
<line class="e r w" x1="75.5" y1="76" x2="75.5" y2="152"/>
<path class="e r d" d="M75.5,0A134.6,134.6 0 0 1 75.5,152"/>
<line class="e b d" x1="-75.5" y1="114" x2="0" y2="152"/>
<line class="e r w" x1="0" y1="152" x2="75.5" y2="152"/>
<line class="e n" x1="75.5" y1="152" x2="151" y2="152"/>
<line class="e b" x1="0" y1="152" x2="0" y2="227"/>
<line class="e b w" x1="0" y1="152" x2="75.5" y2="227"/>
<line class="e r d" x1="75.5" y1="152" x2="75.5" y2="227"/>
<line class="e r" x1="0" y1="227" x2="75.5" y2="227"/>
<line class="e r" x1="151" y1="152" x2="151" y2="227"/>
<line class="e b" x1="75.5" y1="227" x2="151" y2="227"/>
</g>
<g id="o-A" class="nd"><circle cx="0" cy="0" r="4"/></g>
<g id="o-B" class="nd"><circle cx="75.5" cy="0" r="4"/></g>
<g id="o-C" class="nd"><circle cx="-75.5" cy="38" r="4"/></g>
<g id="o-D" class="nd"><circle cx="0" cy="76" r="4"/></g>
<g id="o-E" class="nd"><circle cx="75.5" cy="76" r="4"/></g>
<g id="o-F" class="nd"><circle cx="-75.5" cy="114" r="4"/></g>
<g id="o-G" class="nd"><circle cx="0" cy="152" r="4"/></g>
<g id="o-H" class="nd"><circle cx="75.5" cy="152" r="4"/></g>
<g id="o-I" class="nd"><circle cx="151" cy="152" r="4"/></g>
<g id="o-J" class="nd"><circle cx="0" cy="227" r="4"/></g>
<g id="o-K" class="nd"><circle cx="75.5" cy="227" r="4"/></g>
<g id="o-L" class="nd"><circle cx="151" cy="227" r="4"/></g>
<text class="lbl" x="-113.4" y="82.7"><tspan class="it">e</tspan><tspan class="ast" dy="4">∗</tspan></text>
<text class="lbl" x="15" y="272" text-anchor="middle">(o)</text>
</g>

<!-- arrows between panels -->
<g id="arrows" class="arr">
<path d="M308,143H357M349,135Q351,141 357,143Q351,145 349,151"/>
<path d="M696,143H745M737,135Q739,141 745,143Q739,145 737,151"/>
<path d="M1084,143H1133M1125,135Q1127,141 1133,143Q1127,145 1125,151"/>
<path d="M308,435H357M349,427Q351,433 357,435Q351,437 349,443"/>
<path d="M696,435H745M737,427Q739,433 745,435Q739,437 737,443"/>
<path d="M1084,435H1133M1125,427Q1127,433 1133,435Q1127,437 1125,443"/>
<path d="M308,728H357M349,720Q351,726 357,728Q351,730 349,736"/>
<path d="M696,728H745M737,720Q739,726 745,728Q739,730 737,736"/>
<path d="M1084,728H1133M1125,720Q1127,726 1133,728Q1127,730 1125,736"/>
<path d="M308,1022H357M349,1014Q351,1020 357,1022Q351,1024 349,1030"/>
<path d="M696,1022H745M737,1014Q739,1020 745,1022Q739,1024 737,1030"/>
<path d="M1084,1022H1133M1125,1014Q1127,1020 1133,1022Q1127,1024 1125,1030"/>
<path d="M373,1315H422M414,1307Q416,1313 422,1315Q416,1317 414,1323"/>
</g>
</svg>
